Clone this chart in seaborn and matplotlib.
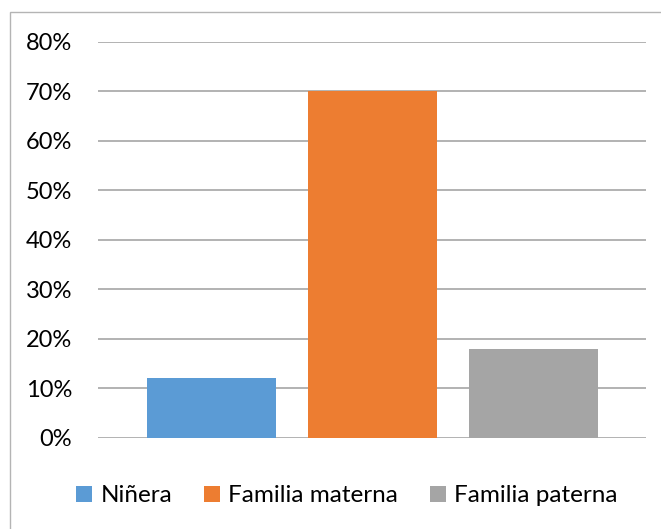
import matplotlib
matplotlib.use("Agg")
import matplotlib.pyplot as plt
import matplotlib.patches as mpatches
from matplotlib.ticker import FuncFormatter
import seaborn as sns
import pandas as pd

categories = ["Niñera", "Familia materna", "Familia paterna"]
values = [0.12, 0.70, 0.18]
colors = ["#5B9BD5", "#ED7D31", "#A5A5A5"]
yticks = [0, 0.1, 0.2, 0.3, 0.4, 0.5, 0.6, 0.7, 0.8]

sns.set_theme(style="white")
plt.rcParams["font.family"] = ["Lato", "DejaVu Sans"]

df = pd.DataFrame({"cat": categories, "val": values})

W, H = 661, 529
fig = plt.figure(figsize=(W / 100, H / 100), dpi=100)
ax = fig.add_axes([98 / W, 1 - 437.7 / H, (646 - 98) / W, (437.7 - 41.7) / H])

sns.barplot(data=df, x="cat", y="val", hue="cat", palette=colors, width=0.8,
            saturation=1, ax=ax, legend=True, order=categories, hue_order=categories,
            linewidth=0, edgecolor="none")

ax.set_ylim(0, 0.8)
ax.set_xlim(-0.705, 2.7)
ax.set_yticks(yticks)
ax.yaxis.set_major_formatter(FuncFormatter(lambda v, p: f"{v*100:.0f}%"))
ax.tick_params(axis="y", length=0, pad=18.5, labelsize=17, labelcolor="#000000")
ax.set_xticks([])
ax.set_xlabel("")
ax.set_ylabel("")
for s in ax.spines.values():
    s.set_visible(False)
ax.yaxis.grid(True, color="#A6A6A6", linewidth=1.2)
ax.set_axisbelow(True)

handles, labels = ax.get_legend_handles_labels()
ax.get_legend().remove()
leg = fig.legend(handles, labels, loc="center", bbox_to_anchor=(347 / W, 1 - 496 / H), ncol=3,
                 frameon=False, fontsize=17.5, handlelength=0.65, handleheight=0.65,
                 handletextpad=0.35, columnspacing=1.3)
for t in leg.get_texts():
    t.set_color("#000000")

border = mpatches.Rectangle((10 / W, -0.05), 1.2, (H - 12) / H + 0.05, transform=fig.transFigure,
                            fill=False, edgecolor="#B4B4B4", linewidth=1.0)
fig.patches.append(border)

fig.savefig("out.png", dpi=100)
